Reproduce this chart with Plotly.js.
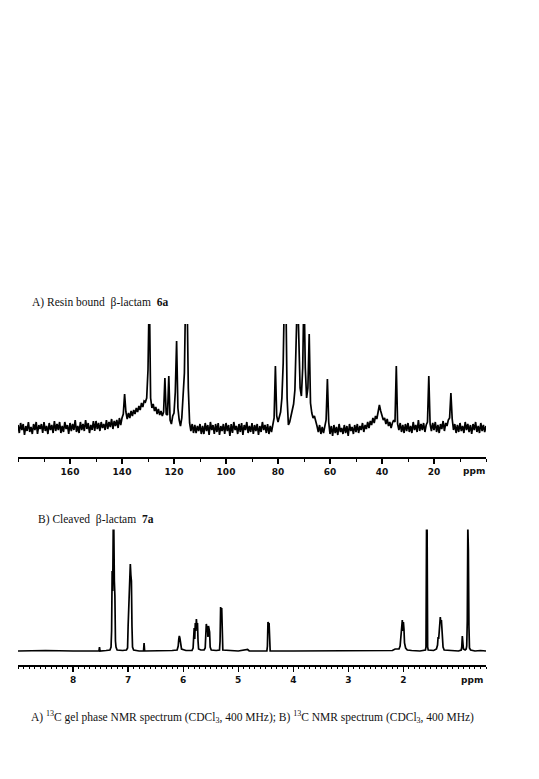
<!DOCTYPE html>
<html>
<head>
<meta charset="utf-8">
<script src="https://cdn.plot.ly/plotly-3.0.1.min.js"></script>
<style>html,body{margin:0;padding:0;background:#fff;}#chart{width:539px;height:779px;}</style>
</head>
<body>
<div id="chart"></div>
<script>
// ---- Panel A: 13C gel-phase spectrum, sampled every 0.5 ppm from 180 ppm down to 0 ppm ----
var ppmStartA = 180;
var ppmStepA = 0.5;
var intensityA = [
  3,-5,5,-2,4,-7,2,-3,6,-4,        // 180 .. 175.5
  1,-6,4,-2,6,-6,3,-1,4,-5,        // 175 .. 170.5
  6,-3,2,-6,5,-2,3,-5,7,-3,        // 170 .. 165.5
  4,-2,6,-5,2,-4,6,-1,3,-6,        // 165 .. 160.5
  5,-3,4,-2,8,-4,2,-5,6,-2,        // 160 .. 155.5
  4,-3,8,-1,5,-5,3,-2,7,-3,        // 155 .. 150.5
  7,-1,5,-3,6,0,4,-2,8,-1,         // 150 .. 145.5
  6,1,9,-1,7,2,8,0,10,3,           // 145 .. 140.5
  10,14,34,16,9,15,10,17,12,18,    // 140 .. 135.5
  14,20,16,22,18,25,21,27,26,30,   // 135 .. 130.5
  58,140,30,20,24,17,21,14,19,13,  // 130 .. 125.5
  17,12,16,50,14,13,52,8,4,12,     // 125 .. 120.5
  15,36,87,20,8,2,10,30,55,140,    // 120 .. 115.5
  140,40,5,-3,4,-5,3,-5,2,-3,      // 115 .. 110.5
  4,-6,2,-6,5,-3,3,-7,6,-2,        // 110 .. 105.5
  3,-6,4,-4,5,-7,2,-3,4,-6,        // 105 .. 100.5
  5,-3,3,-8,4,-5,6,-2,2,-6,        // 100 .. 95.5
  4,-4,5,-7,3,-2,6,-5,2,-4,        // 95 .. 90.5
  5,-6,3,-3,4,-7,2,-4,6,-2,        // 90 .. 85.5
  3,-5,4,-6,2,-4,5,10,62,12,       // 85 .. 80.5
  6,10,16,30,65,140,140,30,3,6,    // 80 .. 75.5
  12,18,24,38,70,140,90,40,32,60,  // 75 .. 70.5
  140,60,30,40,94,25,15,10,12,5,   // 70 .. 65.5
  2,-4,3,-6,1,-5,2,8,49,6,         // 65 .. 60.5
  -6,2,-8,3,-5,1,-7,4,-4,0,        // 60 .. 55.5
  -6,3,-5,2,-8,4,-3,1,-6,3,        // 55 .. 50.5
  -4,4,-5,2,-2,5,-4,3,-1,6,        // 50 .. 45.5
  0,7,3,10,5,12,9,16,23,17,        // 45 .. 40.5
  12,8,10,4,9,2,6,0,5,8,           // 40 .. 35.5
  6,62,4,-2,5,-4,3,-5,4,-3,        // 35 .. 30.5
  5,-4,2,-5,6,-2,3,-4,8,-3,        // 30 .. 25.5
  4,-2,5,-4,3,6,52,4,-3,5,         // 25 .. 20.5
  -2,6,-4,3,-5,4,-1,7,-3,5,        // 20 .. 15.5
  2,8,10,35,9,-2,4,-5,3,-4,        // 15 .. 10.5
  5,-3,2,-5,6,-2,4,-4,3,-6,        // 10 .. 5.5
  4,-2,6,-4,2,-5,5,-3,3,-4,        // 5 .. 0.5
  2                                // 0
];

// ---- Panel B: cleaved product spectrum (ppm, intensity) ----
var ppmB = [
  9.0, 8.5, 8.0, 7.6, 7.53, 7.52, 7.51, 7.4, 7.33, 7.31,
  7.30, 7.29, 7.28, 7.27, 7.26, 7.25, 7.24, 7.23, 7.22, 7.20,
  7.1, 7.03, 7.01, 7.00, 6.99, 6.98, 6.97, 6.96, 6.95, 6.94,
  6.93, 6.92, 6.90, 6.80, 6.72, 6.71, 6.70, 6.5, 6.2, 6.11,
  6.09, 6.08, 6.07, 6.06, 6.05, 6.03, 5.95, 5.84, 5.82, 5.81,
  5.80, 5.79, 5.78, 5.77, 5.76, 5.75, 5.74, 5.73, 5.72, 5.68,
  5.62, 5.60, 5.59, 5.58, 5.57, 5.56, 5.55, 5.54, 5.53, 5.52,
  5.51, 5.49, 5.40, 5.34, 5.33, 5.32, 5.31, 5.30, 5.29, 5.28,
  5.0, 4.83, 4.8, 4.48, 4.47, 4.46, 4.45, 4.44, 4.43, 4.42,
  4.0, 3.5, 3.0, 2.5, 2.2, 2.15, 2.08, 2.06, 2.04, 2.03,
  2.02, 2.01, 2.00, 1.99, 1.98, 1.96, 1.93, 1.85, 1.70, 1.60,
  1.59, 1.58, 1.57, 1.56, 1.55, 1.45, 1.40, 1.38, 1.37, 1.36,
  1.35, 1.34, 1.33, 1.32, 1.31, 1.30, 1.29, 1.28, 1.26, 1.15,
  1.0, 0.95, 0.94, 0.93, 0.92, 0.91, 0.88, 0.86, 0.85, 0.84,
  0.83, 0.82, 0.81, 0.80, 0.78, 0.7, 0.6, 0.5
];
var intensityB = [
  0, 0.5, 0, 0.5, 0, 4, 0, 0.5, 1, 4,
  20, 80, 60, 125, 125, 70, 55, 10, 4, 1,
  0.5, 1, 3, 25, 45, 70, 80, 87, 76, 70,
  25, 4, 1, 0, 0, 8, 0, 0, 0.5, 1,
  5, 12, 15, 13, 8, 2, 0.5, 0.5, 3, 20,
  23, 12, 28, 20, 32, 24, 28, 10, 2, 1,
  1, 3, 15, 27, 24, 25, 14, 25, 19, 19,
  4, 1, 0.5, 1, 10, 44, 40, 43, 8, 1,
  0, 1.5, 0, 0, 5, 29, 27, 28, 5, 0,
  0, 0, 0.5, 0, 0.5, 2, 2, 5, 15, 24,
  31, 20, 29, 22, 8, 3, 1, 0.5, 0, 1,
  4, 125, 125, 4, 1, 0.5, 2, 6, 14, 12,
  19, 26, 34, 28, 31, 22, 10, 4, 1, 0.5,
  0, 1, 4, 15, 4, 2, 1, 2, 5, 30,
  125, 101, 25, 3, 1, 0, 0.5, 0
];

// ---- Axis ticks ----
var tickValsA = [160, 140, 120, 100, 80, 60, 40, 20];
var tickTextA = ['160', '140', '120', '100', '80', '60', '40', '20'];
var endTickA = [0];
var tickValsB = [8, 7, 6, 5, 4, 3, 2];
var tickTextB = ['8', '7', '6', '5', '4', '3', '2'];
var endTicksB = [9, 1];

// ---- Texts ----
var titleA = 'A) Resin bound \u00a0\u03b2-lactam \u00a0<b>6a</b>';
var titleB = 'B) Cleaved \u00a0\u03b2-lactam \u00a0<b>7a</b>';
var captionText = 'A) <sup>13</sup>C gel phase NMR spectrum (CDCl<sub>3</sub>, 400 MHz); B) <sup>13</sup>C NMR spectrum (CDCl<sub>3</sub>, 400 MHz)';
var unitLabel = 'ppm';

// build x for panel A from its sampling
var ppmA = intensityA.map(function (_, i) { return ppmStartA - i * ppmStepA; });

var W = 539, H = 779;
function px(x) { return x / W; }
function py(y) { return 1 - y / H; }

var traces = [
  { x: ppmA, y: intensityA, xaxis: 'x', yaxis: 'y', type: 'scatter', mode: 'lines',
    line: { color: '#000', width: 1.7 }, hoverinfo: 'skip', cliponaxis: true },
  { x: ppmB, y: intensityB, xaxis: 'x2', yaxis: 'y2', type: 'scatter', mode: 'lines',
    line: { color: '#000', width: 1.7 }, hoverinfo: 'skip', cliponaxis: true }
];

var tickFont = { family: 'DejaVu Sans', size: 9, color: '#111', weight: 'bold' };
var serif = { family: 'Liberation Serif', size: 11.5, color: '#111' };

function baseX(range, dom, anchor, vals, texts, minorDtick, minorLen) {
  return {
    domain: dom, anchor: anchor, range: range,
    showgrid: false, zeroline: false, showline: true, linecolor: '#000', linewidth: 1.8,
    ticks: 'outside', ticklen: 5, tickwidth: 1.3, tickcolor: '#000',
    tickmode: 'array', tickvals: vals, ticktext: texts, tickfont: tickFont,
    minor: { tick0: 0, dtick: minorDtick, ticks: 'outside', ticklen: minorLen, tickwidth: 1, tickcolor: '#000', showgrid: false },
    fixedrange: true
  };
}
function tickOnlyX(range, over, anchor, vals) {
  return {
    overlaying: over, anchor: anchor, range: range, side: 'bottom',
    showgrid: false, zeroline: false, showline: false, showticklabels: false,
    ticks: 'outside', ticklen: 5, tickwidth: 1.3, tickcolor: '#000',
    tickmode: 'array', tickvals: vals, fixedrange: true
  };
}

var dom = [px(18), px(486)];
var layout = {
  width: W, height: H,
  margin: { l: 0, r: 0, t: 0, b: 0 },
  paper_bgcolor: '#fff', plot_bgcolor: '#fff',
  showlegend: false,
  xaxis: baseX([180, 0], dom, 'y', tickValsA, tickTextA, 10, 3),
  yaxis: { domain: [py(457), py(324)], anchor: 'x', range: [-29, 104], visible: false, showgrid: false, zeroline: false, fixedrange: true },
  xaxis2: baseX([9.0, 0.5], dom, 'y2', tickValsB, tickTextB, 0.1, 2),
  yaxis2: { domain: [py(665), py(529.5)], anchor: 'x2', range: [-14, 121.5], visible: false, showgrid: false, zeroline: false, fixedrange: true },
  xaxis3: tickOnlyX([180, 0], 'x', 'y', endTickA),
  xaxis4: tickOnlyX([9.0, 0.5], 'x2', 'y2', endTicksB),
  annotations: [
    { text: titleA, xref: 'paper', yref: 'paper', x: px(30), y: py(303), xanchor: 'left', yanchor: 'middle', showarrow: false, font: serif },
    { text: titleB, xref: 'paper', yref: 'paper', x: px(35.5), y: py(519), xanchor: 'left', yanchor: 'middle', showarrow: false, font: serif },
    { text: captionText, xref: 'paper', yref: 'paper', x: px(29), y: py(717), xanchor: 'left', yanchor: 'middle', showarrow: false, font: serif },
    { text: unitLabel, xref: 'paper', yref: 'paper', x: px(474), y: py(471), xanchor: 'center', yanchor: 'middle', showarrow: false, font: tickFont },
    { text: unitLabel, xref: 'paper', yref: 'paper', x: px(472), y: py(680), xanchor: 'center', yanchor: 'middle', showarrow: false, font: tickFont }
  ]
};

Plotly.newPlot('chart', traces, layout, { displayModeBar: false, staticPlot: true });
</script>
</body>
</html>
